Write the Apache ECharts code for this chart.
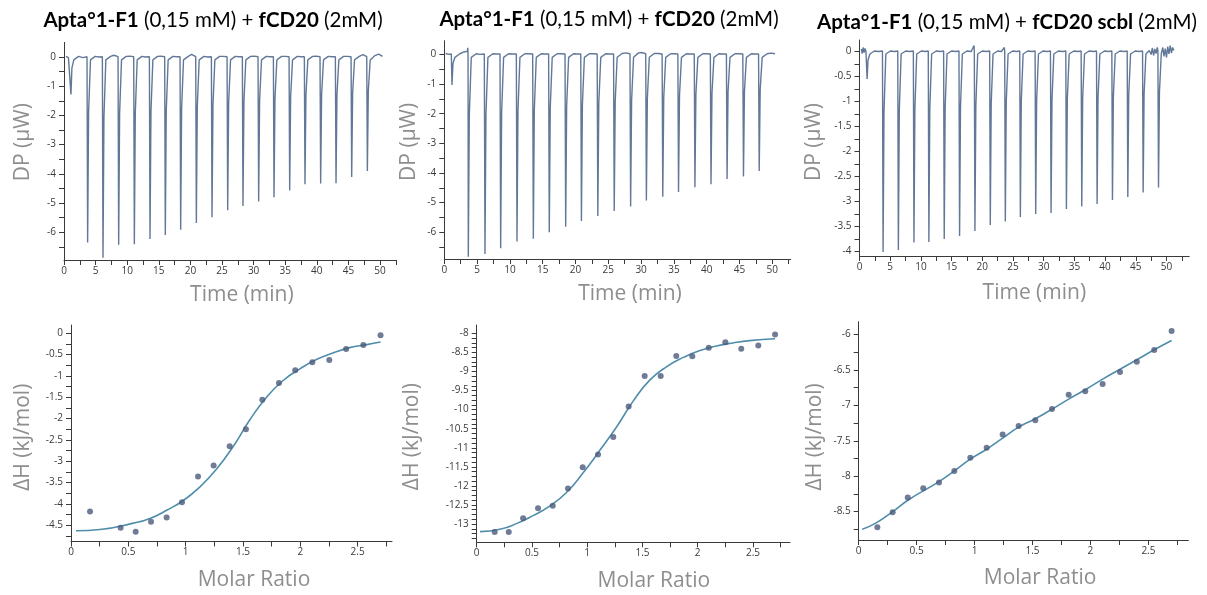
<!DOCTYPE html>
<html><head><meta charset="utf-8">
<script src="https://cdn.jsdelivr.net/npm/echarts@6/dist/echarts.min.js"></script>
<style>html,body{margin:0;padding:0;background:#fff}#c{width:1207px;height:595px}</style>
</head><body><div id="c"></div>
<script>
// ---------------- DATA ----------------
const panelTitles = [
  '{b|Apta°1-F1} (0,15 mM) + {b|fCD20} (2mM)',
  '{b|Apta°1-F1} (0,15 mM) + {b|fCD20} (2mM)',
  '{b|Apta°1-F1} (0,15 mM) + {b|fCD20 scbl} (2mM)'
];
const timeAxisName = 'Time (min)';
const dpAxisName = 'DP (µW)';
const ratioAxisName = 'Molar Ratio';
const dhAxisName = 'ΔH (kJ/mol)';

// tick labels / tick positions
const timeLabels = [0,5,10,15,20,25,30,35,40,45,50];
const timeTicks = [0,2.5,5,7.5,10,12.5,15,17.5,20,22.5,25,27.5,30,32.5,35,37.5,40,42.5,45,47.5,50,52.5];
const dpLabelsA = [0,-1,-2,-3,-4,-5,-6];
const dpTicksA = [0,-0.5,-1,-1.5,-2,-2.5,-3,-3.5,-4,-4.5,-5,-5.5,-6,-6.5];
const dpLabelsC = [0,-0.5,-1,-1.5,-2,-2.5,-3,-3.5,-4];
const dpTicksC = [0,-0.25,-0.5,-0.75,-1,-1.25,-1.5,-1.75,-2,-2.25,-2.5,-2.75,-3,-3.25,-3.5,-3.75,-4];
const ratioLabels = [0,0.5,1,1.5,2,2.5];
const ratioTicks = [0,0.25,0.5,0.75,1,1.25,1.5,1.75,2,2.25,2.5,2.75];
const dhLabels4 = [0,-0.5,-1,-1.5,-2,-2.5,-3,-3.5,-4,-4.5];
const dhTicks4 = [0,-0.25,-0.5,-0.75,-1,-1.25,-1.5,-1.75,-2,-2.25,-2.5,-2.75,-3,-3.25,-3.5,-3.75,-4,-4.25,-4.5,-4.75];
const dhLabels5 = [-8,-8.5,-9,-9.5,-10,-10.5,-11,-11.5,-12,-12.5,-13];
const dhTicks5 = [-8,-8.125,-8.25,-8.375,-8.5,-8.625,-8.75,-8.875,-9,-9.125,-9.25,-9.375,-9.5,-9.625,-9.75,-9.875,-10,-10.125,-10.25,-10.375,-10.5,-10.625,-10.75,-10.875,-11,-11.125,-11.25,-11.375,-11.5,-11.625,-11.75,-11.875,-12,-12.125,-12.25,-12.375,-12.5,-12.625,-12.75,-12.875,-13,-13.125,-13.25,-13.375];
const dhLabels6 = [-6,-6.5,-7,-7.5,-8,-8.5];
const dhTicks6 = [-6,-6.25,-6.5,-6.75,-7,-7.25,-7.5,-7.75,-8,-8.25,-8.5,-8.75];

// raw thermograms [time (min), DP (µW)]
const dpTrace1 = [
[0.3,0.02],[0.7,-0.02],
[1.0,0.01],[1.1,-1.28],[1.25,-0.38],[1.55,-0.1],[2.3,0.02],[3.0,-0.02],
[3.64,0.01],[3.74,-6.35],[3.89,-1.91],[4.19,-0.1],[4.94,0.02],[5.5,0.0],
[6.07,0.01],[6.17,-6.87],[6.32,-2.06],[6.62,-0.1],[7.37,0.02],[7.9,0.06],
[8.55,0.01],[8.65,-6.43],[8.8,-1.93],[9.1,-0.1],[9.85,0.02],[10.4,0.03],
[11.03,0.01],[11.13,-6.41],[11.28,-1.92],[11.58,-0.1],[12.33,0.02],[12.9,0.0],
[13.51,0.01],[13.61,-6.23],[13.76,-1.87],[14.06,-0.1],[14.81,0.02],[15.3,0.03],
[15.93,0.01],[16.03,-6.09],[16.18,-1.83],[16.48,-0.1],[17.23,0.02],[17.8,0.01],
[18.36,0.01],[18.46,-5.91],[18.61,-1.77],[18.91,-0.1],[19.66,0.02],[20.2,0.09],
[20.84,0.01],[20.94,-5.68],[21.09,-1.70],[21.39,-0.1],[22.14,0.02],[22.7,0.0],
[23.32,0.01],[23.42,-5.49],[23.57,-1.65],[23.87,-0.1],[24.62,0.02],[25.2,0.02],
[25.8,0.01],[25.9,-5.25],[26.05,-1.58],[26.35,-0.1],[27.1,0.02],[27.7,0.01],
[28.22,0.01],[28.32,-5.10],[28.47,-1.53],[28.77,-0.1],[29.52,0.02],[30.1,0.03],
[30.7,0.01],[30.8,-4.95],[30.95,-1.49],[31.25,-0.1],[32.0,0.02],[32.6,0.01],
[33.13,0.01],[33.23,-4.80],[33.38,-1.44],[33.68,-0.1],[34.43,0.02],[35.0,0.02],
[35.61,0.01],[35.71,-4.57],[35.86,-1.37],[36.16,-0.1],[36.91,0.02],[37.5,0.01],
[38.03,0.01],[38.13,-4.36],[38.28,-1.31],[38.58,-0.1],[39.33,0.02],[39.9,0.03],
[40.51,0.01],[40.61,-4.33],[40.76,-1.30],[41.06,-0.1],[41.81,0.02],[42.4,0.01],
[42.94,0.01],[43.04,-4.32],[43.19,-1.30],[43.49,-0.1],[44.24,0.02],[44.8,0.02],
[45.42,0.01],[45.52,-4.11],[45.67,-1.23],[45.97,-0.1],[46.72,0.02],[47.3,0.08],
[47.9,0.01],[48.0,-3.90],[48.15,-1.17],[48.45,-0.1],[49.2,0.05],[49.8,0.1],[50.4,0.02]
];
const dpTrace2 = [
[0.2,0.03],[0.7,0.0],
[1.07,0.01],[1.17,-1.03],[1.32,-0.31],[1.62,-0.1],[2.37,0.02],[3.0,0.08],[3.5,0.1],[3.58,0.22],
[3.62,0.0],[3.66,-6.82],[3.81,-2.05],[4.11,-0.1],[4.86,0.02],[5.5,0.0],
[6.1,0.01],[6.2,-6.73],[6.35,-2.02],[6.65,-0.1],[7.4,0.02],[8.0,0.01],
[8.49,0.01],[8.59,-6.54],[8.74,-1.96],[9.04,-0.1],[9.79,0.02],[10.4,0.01],
[10.98,0.01],[11.08,-6.31],[11.23,-1.89],[11.53,-0.1],[12.28,0.02],[12.9,0.02],
[13.47,0.01],[13.57,-6.22],[13.72,-1.87],[14.02,-0.1],[14.77,0.02],[15.4,0.01],
[15.9,0.01],[16.0,-6.0],[16.15,-1.8],[16.45,-0.1],[17.2,0.02],[17.8,0.02],
[18.4,0.01],[18.5,-5.81],[18.65,-1.74],[18.95,-0.1],[19.7,0.02],[20.3,0.01],
[20.8,0.01],[20.9,-5.62],[21.05,-1.69],[21.35,-0.1],[22.1,0.02],[22.7,0.02],
[23.3,0.01],[23.4,-5.45],[23.55,-1.64],[23.85,-0.1],[24.6,0.02],[25.2,0.01],
[25.8,0.01],[25.9,-5.28],[26.05,-1.58],[26.35,-0.1],[27.1,0.03],[27.7,0.05],
[28.3,0.02],[28.4,-5.13],[28.55,-1.54],[28.85,-0.1],[29.6,0.05],[30.2,0.06],
[30.7,0.02],[30.8,-4.93],[30.95,-1.48],[31.25,-0.1],[32.0,0.03],[32.6,0.03],
[33.2,0.01],[33.3,-4.80],[33.45,-1.44],[33.75,-0.1],[34.5,0.02],[35.1,0.02],
[35.6,0.01],[35.7,-4.64],[35.85,-1.39],[36.15,-0.1],[36.9,0.02],[37.5,0.01],
[38.1,0.01],[38.2,-4.48],[38.35,-1.34],[38.65,-0.1],[39.4,0.02],[40.0,0.02],
[40.55,0.01],[40.65,-4.38],[40.8,-1.31],[41.1,-0.1],[41.85,0.02],[42.5,0.01],
[43.0,0.01],[43.1,-4.20],[43.25,-1.26],[43.55,-0.1],[44.3,0.02],[44.9,0.02],
[45.5,0.01],[45.6,-4.12],[45.75,-1.24],[46.05,-0.1],[46.8,0.02],[47.4,0.01],
[47.9,0.01],[48.0,-3.93],[48.15,-1.18],[48.45,-0.1],[49.2,0.02],[49.8,0.04],[50.4,0.02]
];
const dpTrace3 = [
[0.3,0.05],[0.45,-0.04],[0.6,0.08],[0.75,-0.02],[0.9,0.06],[1.05,0.0],
[1.14,0.02],[1.24,-0.55],[1.39,-0.17],[1.69,-0.05],[2.44,0.01],[3.1,0.0],
[3.74,0.01],[3.84,-4.01],[3.99,-1.2],[4.29,-0.05],[5.04,0.01],[5.7,0.0],
[6.23,0.01],[6.33,-3.97],[6.48,-1.19],[6.78,-0.05],[7.53,0.01],[8.2,0.0],
[8.77,0.01],[8.87,-3.82],[9.02,-1.15],[9.32,-0.05],[10.07,0.01],[10.7,0.0],
[11.2,0.01],[11.3,-3.81],[11.45,-1.14],[11.75,-0.05],[12.5,0.01],[13.2,0.0],
[13.7,0.01],[13.8,-3.75],[13.95,-1.13],[14.25,-0.05],[15.0,0.01],[15.7,0.0],
[16.2,0.01],[16.3,-3.69],[16.45,-1.11],[16.75,-0.05],[17.5,0.01],[18.2,0.0],[18.65,0.12],
[18.7,0.01],[18.8,-3.59],[18.95,-1.08],[19.25,-0.05],[20.0,0.01],[20.7,0.0],
[21.2,0.01],[21.3,-3.47],[21.45,-1.04],[21.75,-0.05],[22.5,0.01],[23.1,0.0],[23.6,0.08],
[23.65,0.01],[23.75,-3.40],[23.9,-1.02],[24.2,-0.05],[24.95,0.01],[25.6,0.0],
[26.1,0.01],[26.2,-3.31],[26.35,-0.99],[26.65,-0.05],[27.4,0.01],[28.1,0.0],
[28.6,0.01],[28.7,-3.25],[28.85,-0.98],[29.15,-0.05],[29.9,0.01],[30.6,0.0],
[31.1,0.01],[31.2,-3.23],[31.35,-0.97],[31.65,-0.05],[32.4,0.01],[33.1,0.0],
[33.6,0.01],[33.7,-3.15],[33.85,-0.95],[34.15,-0.05],[34.9,0.01],[35.6,0.0],
[36.1,0.01],[36.2,-3.10],[36.35,-0.93],[36.65,-0.05],[37.4,0.01],[38.1,0.0],
[38.6,0.01],[38.7,-3.05],[38.85,-0.92],[39.15,-0.05],[39.9,0.01],[40.6,0.0],
[41.1,0.01],[41.2,-2.97],[41.35,-0.89],[41.65,-0.05],[42.4,0.01],[43.1,0.0],
[43.6,0.01],[43.7,-2.91],[43.85,-0.87],[44.15,-0.05],[44.9,0.01],[45.6,0.0],
[46.1,0.01],[46.2,-2.82],[46.35,-0.85],[46.65,-0.05],[47.2,0.02],[47.5,-0.06],[47.7,0.07],[47.9,-0.08],[48.1,0.05],[48.3,-0.04],[48.5,0.08],
[48.6,0.02],[48.7,-2.72],[48.85,-0.82],[49.15,-0.05],[49.4,0.08],[49.6,-0.1],[49.8,0.06],[50.0,-0.12],[50.2,0.1],[50.4,-0.05],[50.6,0.12],[50.8,-0.03],[51.0,0.08],[51.2,0.02]
];

// integrated heats [molar ratio, ΔH (kJ/mol)]
const heats1 = [[0.166,-4.18],[0.433,-4.56],[0.564,-4.65],[0.698,-4.42],[0.834,-4.32],[0.968,-3.96],[1.108,-3.36],[1.244,-3.10],[1.384,-2.65],[1.526,-2.25],[1.669,-1.56],[1.814,-1.17],[1.956,-0.87],[2.105,-0.68],[2.253,-0.63],[2.40,-0.37],[2.55,-0.28],[2.70,-0.05]];
const heats2 = [[0.163,-13.21],[0.29,-13.21],[0.42,-12.85],[0.555,-12.59],[0.688,-12.52],[0.826,-12.07],[0.959,-11.51],[1.098,-11.18],[1.236,-10.72],[1.375,-9.92],[1.52,-9.12],[1.665,-9.12],[1.806,-8.59],[1.951,-8.60],[2.10,-8.38],[2.25,-8.23],[2.394,-8.40],[2.548,-8.32],[2.70,-8.03]];
const heats3 = [[0.161,-8.72],[0.293,-8.51],[0.423,-8.30],[0.557,-8.17],[0.693,-8.09],[0.825,-7.925],[0.963,-7.74],[1.104,-7.60],[1.242,-7.41],[1.38,-7.29],[1.524,-7.21],[1.668,-7.05],[1.812,-6.85],[1.955,-6.80],[2.105,-6.70],[2.255,-6.53],[2.40,-6.385],[2.55,-6.22],[2.70,-5.95]];

// fitted curves [molar ratio, ΔH (kJ/mol)]
const fit1 = [[0.044,-4.63],[0.253,-4.60],[0.544,-4.45],[0.689,-4.34],[0.834,-4.15],[0.98,-3.92],[1.125,-3.60],[1.27,-3.18],[1.416,-2.65],[1.56,-2.03],[1.706,-1.50],[1.85,-1.11],[2.0,-0.83],[2.14,-0.62],[2.29,-0.46],[2.43,-0.34],[2.58,-0.27],[2.70,-0.21]];
const fit2 = [[0.03,-13.20],[0.21,-13.14],[0.36,-12.99],[0.51,-12.78],[0.66,-12.53],[0.81,-12.18],[0.965,-11.65],[1.116,-11.06],[1.267,-10.45],[1.417,-9.77],[1.568,-9.22],[1.72,-8.87],[1.87,-8.63],[2.02,-8.45],[2.17,-8.33],[2.32,-8.25],[2.47,-8.19],[2.70,-8.14]];
const fit3 = [[0.031,-8.75],[0.155,-8.655],[0.293,-8.50],[0.428,-8.335],[0.693,-8.076],[0.825,-7.925],[0.963,-7.76],[1.104,-7.62],[1.242,-7.463],[1.38,-7.308],[1.524,-7.19],[1.668,-7.054],[1.812,-6.912],[1.955,-6.78],[2.105,-6.63],[2.255,-6.49],[2.40,-6.357],[2.55,-6.216],[2.70,-6.085]];

// ---------------- CHART ----------------
const AX = '#3a3a3a', LBL = '#3a3a3a', NAMEC = '#8e8e8e';
const FONT = 'Open Sans';
const chart = echarts.init(document.getElementById('c'));

const grids = [
  {left:64, top:42.4, width:331.8, height:217.6},
  {left:444.3, top:40.7, width:346.4, height:218.3},
  {left:859.5, top:40, width:329.7, height:216},
  {left:71, top:325, width:321, height:216.5},
  {left:476.7, top:325, width:313.3, height:217.3},
  {left:858.7, top:321.7, width:329.7, height:218.3}
];

function mkAxis(type, gi, min, max, labels, ticks, name, gap, pad) {
  return {
    type: 'value', gridIndex: gi, min: min, max: max,
    name: name, nameLocation: 'middle', nameGap: gap,
    nameRotate: type === 'y' ? 90 : 0,
    nameTextStyle: {color: NAMEC, fontSize: 21, fontFamily: FONT, padding: pad},
    axisLine: {show: true, onZero: false, lineStyle: {color: AX, width: 1}},
    axisTick: {show: true, length: 5, customValues: ticks, lineStyle: {color: AX, width: 1}},
    minorTick: {show: false},
    axisLabel: {customValues: labels, color: LBL, fontSize: 10, fontFamily: FONT, margin: type === 'y' ? 8 : 6},
    splitLine: {show: false}
  };
}

const xAxes = [
  mkAxis('x',0,0,52.5,timeLabels,timeTicks,timeAxisName,25,[0,0,0,24]),
  mkAxis('x',1,0,52.8,timeLabels,timeTicks,timeAxisName,25,[0,0,0,25]),
  mkAxis('x',2,0,53.7,timeLabels,timeTicks,timeAxisName,27,[0,0,0,20]),
  mkAxis('x',3,0,2.8,ratioLabels,ratioTicks,ratioAxisName,28,[0,0,0,45]),
  mkAxis('x',4,0,2.835,ratioLabels,ratioTicks,ratioAxisName,28,[0,0,0,41]),
  mkAxis('x',5,0,2.845,ratioLabels,ratioTicks,ratioAxisName,28,[0,0,0,33])
];
const yAxes = [
  mkAxis('y',0,-6.95,0.5,dpLabelsA,dpTicksA,dpAxisName,30,[0,0,0,18]),
  mkAxis('y',1,-6.9,0.46,dpLabelsA,dpTicksA,dpAxisName,25,[0,0,0,16]),
  mkAxis('y',2,-4.09,0.23,dpLabelsC,dpTicksC,dpAxisName,35,[0,0,0,12]),
  mkAxis('y',3,-4.88,0.19,dhLabels4,dhTicks4,dhAxisName,37,[0,8,0,0]),
  mkAxis('y',4,-13.48,-7.78,dhLabels5,dhTicks5,dhAxisName,54,[0,6,0,0]),
  mkAxis('y',5,-8.9,-5.82,dhLabels6,dhTicks6,dhAxisName,33,[0,12,0,0])
];

const traceStyle = {type:'line', symbol:'none', lineStyle:{color:'#627898', width:1.4}, animation:false};
const fitStyle = {type:'line', symbol:'none', smooth:true, lineStyle:{color:'#4f8dab', width:1.6}, z:2, animation:false};
const dotStyle = {type:'scatter', symbolSize:6, itemStyle:{color:'#4c5a7c'}, z:3, animation:false};

const series = [
  Object.assign({xAxisIndex:0, yAxisIndex:0, data:dpTrace1}, traceStyle),
  Object.assign({xAxisIndex:1, yAxisIndex:1, data:dpTrace2}, traceStyle),
  Object.assign({xAxisIndex:2, yAxisIndex:2, data:dpTrace3}, traceStyle),
  Object.assign({xAxisIndex:3, yAxisIndex:3, data:fit1}, fitStyle),
  Object.assign({xAxisIndex:3, yAxisIndex:3, data:heats1}, dotStyle),
  Object.assign({xAxisIndex:4, yAxisIndex:4, data:fit2}, fitStyle),
  Object.assign({xAxisIndex:4, yAxisIndex:4, data:heats2}, dotStyle),
  Object.assign({xAxisIndex:5, yAxisIndex:5, data:fit3}, fitStyle),
  Object.assign({xAxisIndex:5, yAxisIndex:5, data:heats3}, dotStyle)
];

const titleCenters = [[213, 10], [609, 9], [1007, 12]];
const titles = panelTitles.map((t, i) => ({
  text: t, left: titleCenters[i][0], top: titleCenters[i][1], textAlign: 'center', padding: 0,
  textStyle: {fontSize: 20.5, fontWeight: 'normal', color: '#000', fontFamily: 'Lato',
    rich: {b: {fontSize: 20.5, fontWeight: 'bold', color: '#000', fontFamily: 'Lato'}}}
}));

chart.setOption({
  backgroundColor: '#ffffff',
  animation: false,
  title: titles,
  grid: grids,
  xAxis: xAxes,
  yAxis: yAxes,
  series: series
});
</script></body></html>
